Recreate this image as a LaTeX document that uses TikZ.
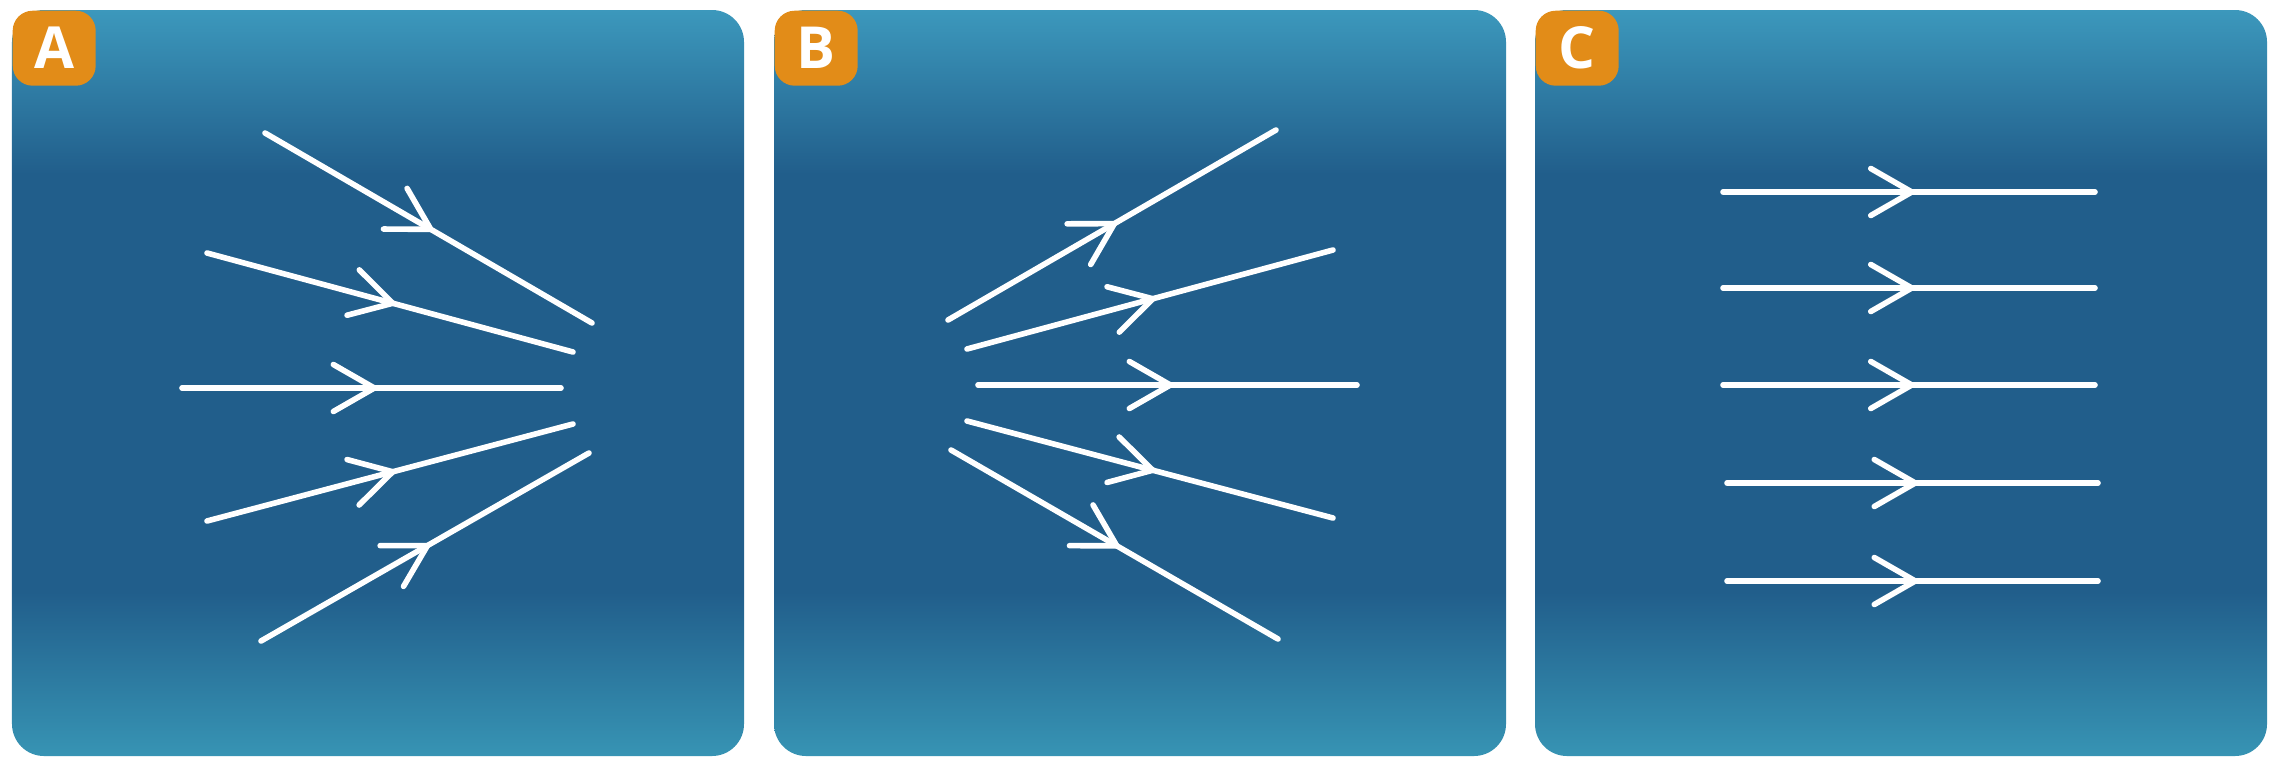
\documentclass[tikz,border=0pt]{standalone}
\usepackage{fontspec}
\setmainfont{Open Sans}
\usetikzlibrary{calc, positioning}
\usetikzlibrary{arrows.meta}
\usetikzlibrary{decorations.markings}

\definecolor{paneltop}{RGB}{60,152,188}
\definecolor{paneldark}{RGB}{33,94,139}
\definecolor{panelbot}{RGB}{55,148,180}
\definecolor{badgeorange}{RGB}{226,140,24}
\pgfdeclareverticalshading{panelshade}{100bp}{color(0bp)=(panelbot); color(25bp)=(panelbot); color(36bp)=(paneldark); color(64bp)=(paneldark); color(75bp)=(paneltop); color(100bp)=(paneltop)}

\tikzset{
  panel/.style={rounded corners=0.32cm, shading=panelshade},
  badge/.style={fill=badgeorange, rounded corners=0.2cm, minimum width=0.83cm, minimum height=0.75cm,
    inner sep=0pt, text=white, font=\fontsize{16.5}{16.5}\selectfont\bfseries, anchor=north west},
  ray/.style={draw=white, line width=1.6pt, line cap=round, postaction={decorate},
    decoration={markings, mark=at position 0.515 with {\arrow{Straight Barb[length=0.41cm, width=0.47cm, round]}}}}
}

\begin{document}
\begin{tikzpicture}
\fill[white] (0,0) rectangle (22.69,7.58);
\useasboundingbox (0,0) rectangle (22.69,7.58);
    \def\pw{7.32}
% panels
\foreach \x in {0.12, 7.74, 15.35} {
  \shade[panel] (\x,0.02) rectangle (\x+\pw,7.48);
}
\node[badge] (labA) at (0.12,7.48) {A};
\node[badge] (labB) at (7.74,7.48) {B};
\node[badge] (labC) at (15.35,7.48) {C};
% A: converging
\foreach \n/\xs/\ys/\xe/\ye in {1/2.65/6.25/5.92/4.35, 2/2.07/5.05/5.73/4.06, 3/1.82/3.70/5.61/3.70,
                                4/2.07/2.37/5.73/3.34, 5/2.61/1.17/5.89/3.05} {
  \coordinate (A\n-s) at (\xs,\ys);
  \coordinate (A\n-e) at (\xe,\ye);
  \draw[ray] (A\n-s) -- (A\n-e);
}
% B: diverging
\foreach \n/\xs/\ys/\xe/\ye in {1/9.48/4.38/12.76/6.28, 2/9.67/4.09/13.33/5.08, 3/9.78/3.73/13.57/3.73,
                                4/9.67/3.37/13.33/2.40, 5/9.51/3.08/12.78/1.19} {
  \coordinate (B\n-s) at (\xs,\ys);
  \coordinate (B\n-e) at (\xe,\ye);
  \draw[ray] (B\n-s) -- (B\n-e);
}
% C: parallel
\foreach \n/\xs/\y/\xe in {1/17.23/5.66/20.95, 2/17.23/4.70/20.95, 3/17.23/3.73/20.95,
                           4/17.27/2.75/20.98, 5/17.27/1.77/20.98} {
  \coordinate (C\n-s) at (\xs,\y);
  \coordinate (C\n-e) at (\xe,\y);
  \draw[ray] (C\n-s) -- (C\n-e);
}
\end{tikzpicture}
\end{document}
